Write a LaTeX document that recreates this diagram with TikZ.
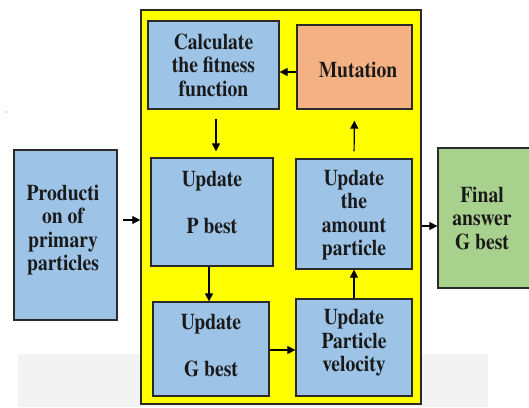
\documentclass[tikz,border=0pt]{standalone}
\usepackage{fontspec}
\setmainfont{texgyretermes}[Extension=.otf, UprightFont=*-regular, BoldFont=*-bold, FakeStretch=0.87]
\usetikzlibrary{arrows.meta}
\definecolor{boxblue}{HTML}{9DC3E6}
\definecolor{mutorange}{HTML}{F4B183}
\definecolor{fingreen}{HTML}{A9D18E}
\definecolor{bandgray}{HTML}{F3F3F3}
\definecolor{edgegray}{HTML}{2A2A2A}
\definecolor{pureyellow}{HTML}{FFFF00}
\tikzset{
  box/.style={draw=edgegray, line width=1.3pt, fill=boxblue, inner sep=0pt, minimum width=#1},
  txt/.style={font=\fontsize{22.5pt}{23.5pt}\selectfont\bfseries, align=center, text=black!90, inner sep=0pt},
  arr/.style={draw=black, line width=1.2pt, -{Triangle[length=8pt,width=8pt]}}
}
\begin{document}
\begin{tikzpicture}[x=1pt,y=-1pt]
\useasboundingbox (0,0) rectangle (529,407);
\clip (0,0) rectangle (529,407);
\fill[bandgray] (18,354) rectangle (488,407);
\fill[gray!60] (6,112) circle (0.9pt);
% containers
\node[draw=edgegray, line width=1.5pt, fill=pureyellow, minimum width=280pt, minimum height=394pt] (yel) at (281,207) {};
\node[box=103pt, minimum height=170pt] (prod) at (65.5,235) {};
\node[box=102pt, minimum height=140pt, fill=fingreen] (fin) at (489,218) {};
\node[box=131pt, minimum height=88pt] (calc) at (213.5,65) {};
\node[box=115pt, minimum height=84pt, fill=mutorange] (mut) at (354.5,67) {};
\node[box=122pt, minimum height=108pt] (pbest) at (212,212) {};
\node[box=116pt, minimum height=110pt] (amt) at (354,214) {};
\node[box=116pt, minimum height=94pt] (gbest) at (211,349) {};
\node[box=116pt, minimum height=97pt] (vel) at (354,347.5) {};
% texts
\node[txt] (prodt) at (63,230) {Producti\\on of\\primary\\particles};
\node[txt] (fint) at (482,218) {Final\\answer\\G best};
\node[txt] (calct) at (213.5,65) {Calculate\\the fitness\\function};
\node[txt] (mutt) at (358,70) {Mutation};
\node[txt] (pbestt) at (212,203) {Update\\[23.5pt]P best};
\node[txt] (amtt) at (354,215) {Update\\the\\amount\\particle};
\node[txt] (gbestt) at (211,346) {Update\\[23.5pt]G best};
\node[txt] (velt) at (354,343) {Update\\Particle\\velocity};
% connectors
\draw[arr, shorten <=5pt] ([yshift=15pt]prod.east) -- (yel.west |- 0,220);
\draw[arr] (yel.east |- 0,226) -- (fin.west |- 0,226);
\draw[arr] (mut.west |- 0,72) -- (calc.east |- 0,72);
\draw[arr, shorten <=9pt, shorten >=6pt] (calc.south -| 216,0) -- (pbest.north -| 216,0);
\draw[arr] (pbest.south -| 209,0) -- (gbest.north -| 209,0);
\draw[arr] (gbest.east |- 0,350) -- (vel.west |- 0,350);
\draw[arr] (vel.north) -- (amt.south);
\draw[arr, shorten <=7pt, shorten >=11pt] (amt.north) -- (mut.south);
\end{tikzpicture}
\end{document}
